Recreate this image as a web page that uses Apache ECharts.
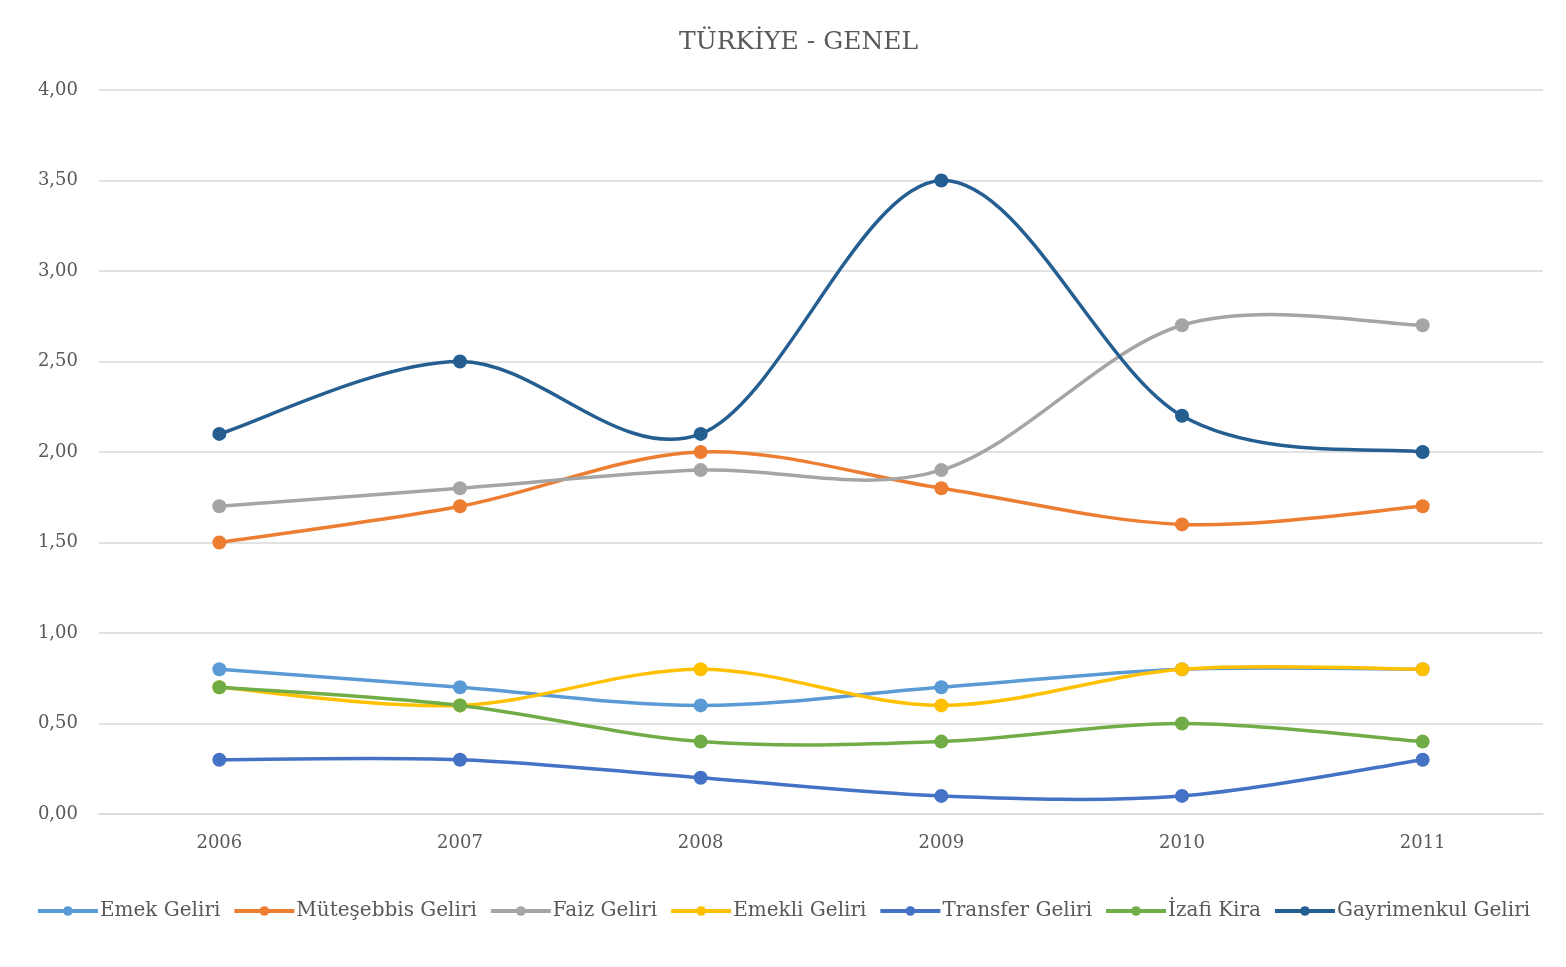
<!DOCTYPE html>
<html><head><meta charset="utf-8">
<script src="https://cdn.jsdelivr.net/npm/echarts@6/dist/echarts.min.js"></script>
<style>html,body{margin:0;padding:0;background:#fff}#c{width:1566px;height:967px}</style>
</head><body><div id="c"></div>
<script>
const years = ['2006','2007','2008','2009','2010','2011'];
const emek = [0.8,0.7,0.6,0.7,0.8,0.8];
const mutesebbis = [1.5,1.7,2.0,1.8,1.6,1.7];
const faiz = [1.7,1.8,1.9,1.9,2.7,2.7];
const emekli = [0.7,0.6,0.8,0.6,0.8,0.8];
const transfer = [0.3,0.3,0.2,0.1,0.1,0.3];
const izafi = [0.7,0.6,0.4,0.4,0.5,0.4];
const gayrimenkul = [2.1,2.5,2.1,3.5,2.2,2.0];
const yTicks = [0,0.5,1,1.5,2,2.5,3,3.5,4];
const names = ['Emek Geliri','Müteşebbis Geliri','Faiz Geliri','Emekli Geliri','Transfer Geliri','İzafi Kira','Gayrimenkul Geliri'];
const datas = [emek,mutesebbis,faiz,emekli,transfer,izafi,gayrimenkul];
const colors = ['#5B9BD5','#ED7D31','#A5A5A5','#FFC000','#4472C4','#70AD47','#255E91'];
const font = 'DejaVu Serif';

// Excel-like Catmull-Rom smoothing drawn through the axis scales
function curveSeries(arr, color, idx){
  return {
    type:'custom', name:'_c'+idx, coordinateSystem:'cartesian2d', z:2+idx*2,
    data: arr.map((v,i)=>[i,v]), silent:true,
    renderItem:function(params, api){
      const i = params.dataIndex, n = arr.length;
      if (i >= n-1) return null;
      const P = k => api.coord([Math.max(0,Math.min(n-1,k)), arr[Math.max(0,Math.min(n-1,k))]]);
      const p0=P(i-1), p1=P(i), p2=P(i+1), p3=P(i+2);
      return {type:'bezierCurve', shape:{
        x1:p1[0], y1:p1[1], x2:p2[0], y2:p2[1],
        cpx1:p1[0]+(p2[0]-p0[0])/6, cpy1:p1[1]+(p2[1]-p0[1])/6,
        cpx2:p2[0]-(p3[0]-p1[0])/6, cpy2:p2[1]-(p3[1]-p1[1])/6},
        style:{stroke:color, lineWidth:3.5, fill:null, lineCap:'round'}};
    }
  };
}

const series = [];
names.forEach((n,i)=>{
  series.push(curveSeries(datas[i], colors[i], i));
  series.push({name:n, type:'line', data:datas[i], symbol:'circle', symbolSize:14, z:3+i*2,
    lineStyle:{width:3.5, color:colors[i], opacity:0}, itemStyle:{color:colors[i]}});
});

const chart = echarts.init(document.getElementById('c'));
chart.setOption({
  animation:false,
  color: colors,
  title:{text:'TÜRKİYE - GENEL',left:674,top:25,textStyle:{fontFamily:font,fontSize:25,fontWeight:'normal',color:'#595959'}},
  grid:{left:99,right:23,top:90,bottom:153},
  legend:{bottom:41,left:'center',itemWidth:60,itemHeight:12,itemGap:12,data:names,
    lineStyle:{width:4,opacity:1},
    textStyle:{fontFamily:font,fontSize:20,color:'#595959',padding:[0,0,0,-3]}},
  xAxis:{type:'category',data:years,boundaryGap:true,
    axisLine:{lineStyle:{color:'#D9D9D9',width:1.5}},axisTick:{show:false},
    axisLabel:{fontFamily:font,fontSize:18,color:'#595959',margin:20}},
  yAxis:{type:'value',min:yTicks[0],max:yTicks[yTicks.length-1],interval:0.5,
    axisLine:{show:false},axisTick:{show:false},
    splitLine:{lineStyle:{color:'#D9D9D9',width:1.5}},
    axisLabel:{fontFamily:font,fontSize:18,color:'#595959',margin:21,formatter:v=>v.toFixed(2).replace('.',',')}},
  series: series
});
</script></body></html>
